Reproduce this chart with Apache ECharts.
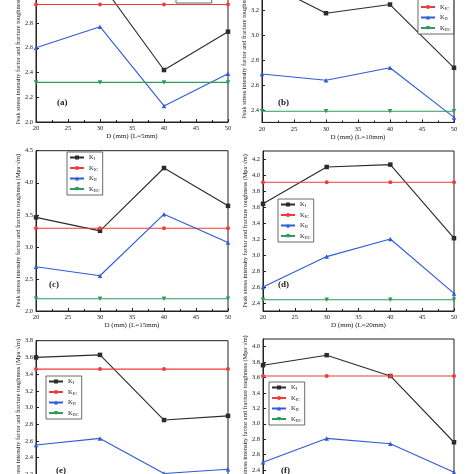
<!DOCTYPE html>
<html><head><meta charset="utf-8">
<script src="https://cdn.jsdelivr.net/npm/echarts@6/dist/echarts.min.js"></script>
<style>html,body{margin:0;padding:0;background:#fff}#c{width:474px;height:474px}</style>
</head><body><div id="c"></div>
<script>
// D values (mm)
const D = [20, 30, 40, 50];
const xTicks = [20, 25, 30, 35, 40, 45, 50];
// Panel (a) L=5mm
const aKI   = [3.10, 3.13, 2.42, 2.73];
const aKIC  = [2.95, 2.95, 2.95, 2.95];
const aKII  = [2.60, 2.77, 2.13, 2.39];
const aKIIC = [2.32, 2.32, 2.32, 2.32];
// Panel (b) L=10mm
const bKI   = [3.44, 3.18, 3.25, 2.74];
const bKIC  = [3.50, 3.50, 3.50, 3.50];
const bKII  = [2.69, 2.64, 2.74, 2.34];
const bKIIC = [2.39, 2.39, 2.39, 2.39];
// Panel (c) L=15mm
const cKI   = [3.46, 3.25, 4.23, 3.64];
const cKIC  = [3.29, 3.29, 3.29, 3.29];
const cKII  = [2.69, 2.55, 3.51, 3.07];
const cKIIC = [2.19, 2.19, 2.19, 2.19];
// Panel (d) L=20mm
const dKI   = [3.64, 4.10, 4.13, 3.21];
const dKIC  = [3.91, 3.91, 3.91, 3.91];
const dKII  = [2.60, 2.98, 3.20, 2.52];
const dKIIC = [2.44, 2.44, 2.44, 2.44];
// Panel (e)
const eKI   = [3.60, 3.63, 2.85, 2.90];
const eKIC  = [3.46, 3.46, 3.46, 3.46];
const eKII  = [2.55, 2.63, 2.21, 2.26];
const eKIIC = [2.12, 2.12, 2.12, 2.12];
// Panel (f)
const fKI   = [3.76, 3.89, 3.62, 2.76];
const fKIC  = [3.62, 3.62, 3.62, 3.62];
const fKII  = [2.50, 2.81, 2.74, 2.37];
const fKIIC = [2.20, 2.20, 2.20, 2.20];
// y tick labels per panel
const aTicks = [2.0, 2.2, 2.4, 2.6, 2.8, 3.0, 3.2];
const bTicks = [2.4, 2.6, 2.8, 3.0, 3.2, 3.4];
const cTicks = [2.0, 2.5, 3.0, 3.5, 4.0, 4.5];
const dTicks = [2.4, 2.6, 2.8, 3.0, 3.2, 3.4, 3.6, 3.8, 4.0, 4.2];
const eTicks = [2.0, 2.2, 2.4, 2.6, 2.8, 3.0, 3.2, 3.4, 3.6, 3.8];
const fTicks = [2.2, 2.4, 2.6, 2.8, 3.0, 3.2, 3.4, 3.6, 3.8, 4.0];
const xNames = ['D (mm) (L=5mm)', 'D (mm) (L=10mm)', 'D (mm) (L=15mm)', 'D (mm) (L=20mm)', 'D (mm) (L=25mm)', 'D (mm) (L=30mm)'];
const tags = ['(a)', '(b)', '(c)', '(d)', '(e)', '(f)'];
const yName = 'Peak stress intensity factor and fracture toughness (Mpa·√m)';

const FONT = '"Liberation Serif", "Times New Roman", serif';
const COLORS = {KI: '#2b2b2b', KIC: '#ee3b3b', KII: '#2f5bd8', KIIC: '#2e9a5e'};
const SYMBOLS = {KI: 'rect', KIC: 'circle', KII: 'triangle', KIIC: 'triangle'};
const LABEL = {KI: '{k|K}{s|I}', KIC: '{k|K}{s|IC}', KII: '{k|K}{s|II}', KIIC: '{k|K}{s|IIC}'};

const panels = [
  {s: {KI: aKI, KIC: aKIC, KII: aKII, KIIC: aKIIC}, ticks: aTicks, min: 2.0, max: 3.2,
   grid: {left: 36, top: -26.5, width: 192, height: 148.5}, legend: {left: 176, top: -40}, tag: [57, 98]},
  {s: {KI: bKI, KIC: bKIC, KII: bKII, KIIC: bKIIC}, ticks: bTicks, min: 2.3, max: 3.6,
   grid: {left: 262, top: -38.9, width: 192, height: 161.3}, legend: {left: 418, top: -9}, tag: [278, 98]},
  {s: {KI: cKI, KIC: cKIC, KII: cKII, KIIC: cKIIC}, ticks: cTicks, min: 2.0, max: 4.5,
   grid: {left: 36, top: 150.7, width: 192, height: 160.3}, legend: {left: 67, top: 152}, tag: [49, 280]},
  {s: {KI: dKI, KIC: dKIC, KII: dKII, KIIC: dKIIC}, ticks: dTicks, min: 2.3, max: 4.3,
   grid: {left: 263, top: 151, width: 191, height: 160}, legend: {left: 278, top: 199}, tag: [278, 280]},
  {s: {KI: eKI, KIC: eKIC, KII: eKII, KIIC: eKIIC}, ticks: eTicks, min: 2.0, max: 3.8,
   grid: {left: 36, top: 340.7, width: 192, height: 150.3}, legend: {left: 46, top: 376}, tag: [56, 466]},
  {s: {KI: fKI, KIC: fKIC, KII: fKII, KIIC: fKIIC}, ticks: fTicks, min: 2.2, max: 4.1,
   grid: {left: 263, top: 339, width: 191, height: 146.4}, legend: {left: 269, top: 382}, tag: [281, 466]}
];

const grids = [], xAxes = [], yAxes = [], series = [], legends = [], graphics = [];
const names = ['KI', 'KIC', 'KII', 'KIIC'];
const axisCommon = {
  axisLine: {lineStyle: {color: '#222', width: 1}},
  axisTick: {inside: true, length: 3, lineStyle: {color: '#222'}},
  minorTick: {show: true, splitNumber: 2, length: 2, lineStyle: {color: '#222'}},
  splitLine: {show: false},
  axisLabel: {color: '#222', fontSize: 6.5, fontFamily: FONT, margin: 3}
};
panels.forEach((p, i) => {
  grids.push(Object.assign({show: true, borderColor: '#222', borderWidth: 1, backgroundColor: 'transparent',
    containLabel: false, outerBoundsMode: 'none'}, p.grid));
  xAxes.push(Object.assign({}, axisCommon, {
    type: 'value', gridIndex: i, min: 20, max: 50, interval: 5,
    name: xNames[i], nameLocation: 'middle', nameGap: 11,
    nameTextStyle: {fontSize: 7, fontFamily: FONT, color: '#222'},
    axisLabel: Object.assign({}, axisCommon.axisLabel, {customValues: xTicks})
  }));
  yAxes.push(Object.assign({}, axisCommon, {
    type: 'value', gridIndex: i, min: p.min, max: p.max,
    name: yName, nameLocation: 'middle', nameGap: 14,
    nameTextStyle: {fontSize: 6.3, fontFamily: FONT, color: '#222'},
    axisTick: Object.assign({}, axisCommon.axisTick, {customValues: p.ticks}),
    minorTick: {show: false},
    axisLabel: Object.assign({}, axisCommon.axisLabel, {customValues: p.ticks, formatter: v => v.toFixed(1)})
  }));
  names.forEach(n => {
    series.push({
      name: n, type: 'line', xAxisIndex: i, yAxisIndex: i,
      data: D.map((d, k) => [d, p.s[n][k]]),
      symbol: SYMBOLS[n], symbolSize: n === 'KIC' ? 4 : 4.5, symbolRotate: n === 'KIIC' ? 180 : 0,
      lineStyle: {color: COLORS[n], width: 1.1},
      itemStyle: {color: COLORS[n]},
      emphasis: {disabled: true}, animation: false
    });
  });
  legends.push({
    left: p.legend.left, top: p.legend.top, orient: 'vertical',
    itemWidth: 14, itemHeight: 5, itemGap: 3, padding: [2, 3, 2, 2],
    borderColor: '#444', borderWidth: 0.8, backgroundColor: '#fff',
    data: names,
    formatter: n => LABEL[n],
    textStyle: {fontFamily: FONT, color: '#222', rich: {
      k: {fontSize: 6.5, fontFamily: FONT, color: '#222'},
      s: {fontSize: 4.5, fontFamily: FONT, color: '#222', verticalAlign: 'bottom', padding: [3, 0, 0, 0]}
    }}
  });
  graphics.push({type: 'text', left: p.tag[0], top: p.tag[1], style: {text: tags[i], font: 'bold 9px ' + FONT, fill: '#222'}});
});

const chart = echarts.init(document.getElementById('c'), null, {renderer: 'canvas'});
chart.setOption({
  animation: false, backgroundColor: '#fff',
  grid: grids, xAxis: xAxes, yAxis: yAxes, series: series, legend: legends, graphic: graphics
});
</script></body></html>
